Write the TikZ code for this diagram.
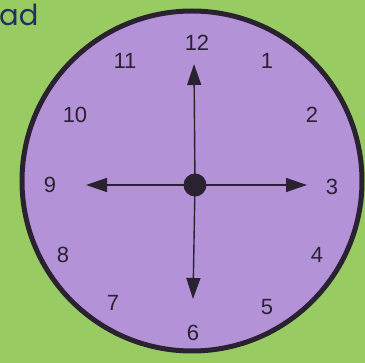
\documentclass[tikz,border=0pt]{standalone}
\usepackage{xcolor}
\usepackage{fontspec}
\setmainfont{Liberation Sans}
\newfontfamily\titlefont{Poppins}
\usepackage{tikz}
\usetikzlibrary{positioning, arrows.meta}

\definecolor{leafgreen}{HTML}{98CC62}
\definecolor{facelilac}{HTML}{B492D8}
\definecolor{inkdark}{HTML}{2A2230}
\definecolor{titlenavy}{HTML}{22305E}

\begin{document}
\begin{tikzpicture}[
    x=1pt, y=-1pt,
    clockface/.style={
        circle,
        draw=inkdark,
        fill=facelilac,
        line width=5pt,
        minimum size=340pt,
        inner sep=0pt
    },
    hournum/.style={
        text=inkdark,
        inner sep=0pt,
        font=\fontsize{22}{26}\selectfont
    },
    hubdot/.style={circle, fill=inkdark, minimum size=23pt, inner sep=0pt},
    handarrow/.style={-{Triangle[length=21pt, width=14pt]}, line width=1.4pt, draw=inkdark}
]

\fill[leafgreen] (0,0) rectangle (365,363);
\useasboundingbox (0,0) rectangle (365,363);

\node[text=titlenavy, anchor=base west, inner sep=0pt,
      font=\titlefont\fontsize{29}{32}\selectfont] (title) at (-1,26) {ad};

\node[clockface] (face) at (192,181) {};

% hour numbers
\node[hournum] (n12) at (197,43) {12};
\node[hournum] (n1) at (267,61) {1};
\node[hournum] (n2) at (312,115) {2};
\node[hournum] (n3) at (332,187) {3};
\node[hournum] (n4) at (317,255) {4};
\node[hournum] (n5) at (267,307) {5};
\node[hournum] (n6) at (193,333) {6};
\node[hournum] (n7) at (113,303) {7};
\node[hournum] (n8) at (63,255) {8};
\node[hournum] (n9) at (50,185) {9};
\node[hournum] (n10) at (75,115) {10};
\node[hournum] (n11) at (125,61) {11};

\coordinate (hub) at (195,185);
\coordinate (tipup) at (194,64);
\coordinate (tipdown) at (193,299);
\coordinate (tipleft) at (86,185);
\coordinate (tipright) at (307,185);

\draw[handarrow] (hub) -- (tipup);
\draw[handarrow] (hub) -- (tipdown);
\draw[handarrow] (hub) -- (tipleft);
\draw[handarrow] (hub) -- (tipright);

\node[hubdot] (dot) at (hub) {};

\end{tikzpicture}
\end{document}
